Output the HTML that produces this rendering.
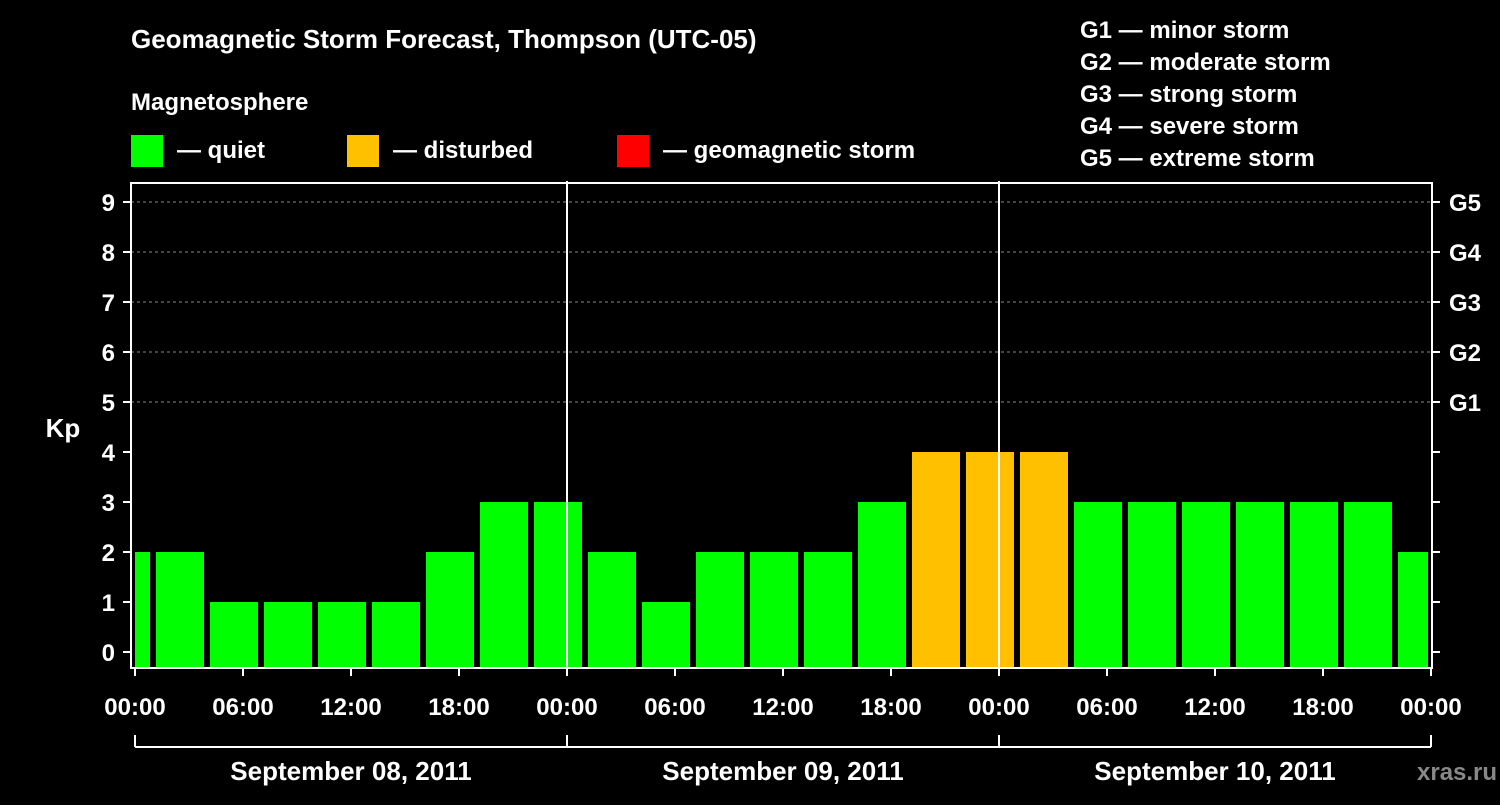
<!DOCTYPE html>
<html><head><meta charset="utf-8"><style>
body{margin:0;background:#000;width:1500px;height:800px;overflow:hidden;font-family:"Liberation Sans",sans-serif;}
svg text{font-family:"Liberation Sans",sans-serif;font-weight:bold;fill:#fff;}
</style></head><body>
<svg id="chart" width="1500" height="800" xmlns="http://www.w3.org/2000/svg">
<text x="131" y="48" font-size="26">Geomagnetic Storm Forecast, Thompson (UTC-05)</text>
<text x="131" y="110" font-size="24">Magnetosphere</text>
<rect x="131" y="135" width="32" height="32" fill="#00ff00"/>
<text x="177" y="158" font-size="24">— quiet</text>
<rect x="347" y="135" width="32" height="32" fill="#ffc000"/>
<text x="393" y="158" font-size="24">— disturbed</text>
<rect x="617" y="135" width="32" height="32" fill="#ff0000"/>
<text x="663" y="158" font-size="24">— geomagnetic storm</text>
<g font-size="24">
<text x="1080" y="38">G1 — minor storm</text>
<text x="1080" y="70">G2 — moderate storm</text>
<text x="1080" y="102">G3 — strong storm</text>
<text x="1080" y="134">G4 — severe storm</text>
<text x="1080" y="166">G5 — extreme storm</text>
</g>
<g id="plot"></g>
<text x="1417" y="780" font-size="24" fill="#888" style="fill:#888">xras.ru</text>
</svg>
<script>
const kpValues=[2,2,1,1,1,1,2,3,3,2,1,2,2,2,3,4,4,4,3,3,3,3,3,3,2];
const yTicks=[0,1,2,3,4,5,6,7,8,9];
const gLabels=["G1","G2","G3","G4","G5"];
const xLabels=["00:00","06:00","12:00","18:00","00:00","06:00","12:00","18:00","00:00","06:00","12:00","18:00","00:00"];
const dayLabels=["September 08, 2011","September 09, 2011","September 10, 2011"];
const firstSlotHour=-2, slotHours=3;
const X0=135,HPX=18,PL=131,PR=1432,PT=183,PB=668;
const xs=h=>X0+h*HPX;
const ys=v=>652-v*50;
const NS="http://www.w3.org/2000/svg";
const g=document.getElementById('plot');
function mk(t,a,p){const e=document.createElementNS(NS,t);for(const k in a)e.setAttribute(k,a[k]);(p||g).appendChild(e);return e;}
// grid
yTicks.filter(v=>v>=5).forEach(v=>{const l=mk('line',{x1:PL,x2:PR,y1:ys(v),y2:ys(v),stroke:'#888','stroke-dasharray':'3,3','stroke-width':1});

});
// bars
kpValues.forEach((v,i)=>{const h0=firstSlotHour+i*slotHours;let x1=xs(h0)+3,x2=xs(h0+slotHours)-3;
x1=Math.max(x1,X0);x2=Math.min(x2,PR-4);
const c=v>=5?'#ff0000':(v>=4?'#ffc000':'#00ff00');
const r=mk('rect',{x:x1,y:ys(v),width:x2-x1,height:PB-ys(v),fill:c});

});
// frame
const f=mk('rect',{x:PL,y:PT,width:PR-PL,height:PB-PT,fill:'none',stroke:'#fff','stroke-width':2});


// day lines
[1,2].forEach(d=>{const l=mk('line',{x1:xs(24*d),x2:xs(24*d),y1:181,y2:PB,stroke:'#fff','stroke-width':2});

});
// y ticks
yTicks.forEach(v=>{mk('line',{x1:PL-8,x2:PL,y1:ys(v),y2:ys(v),stroke:'#fff','stroke-width':2});
mk('line',{x1:PR,x2:PR+8,y1:ys(v),y2:ys(v),stroke:'#fff','stroke-width':2});
const t=mk('text',{x:115,y:ys(v)+9,'font-size':24,'text-anchor':'end'});t.textContent=v;

});
gLabels.forEach((s,i)=>{const t=mk('text',{x:1449,y:ys(5+i)+9,'font-size':24});t.textContent=s;

});
const kp=mk('text',{x:63,y:437,'font-size':26,'text-anchor':'middle'});kp.textContent='Kp';


// x ticks
xLabels.forEach((s,i)=>{const x=xs(i*6);mk('line',{x1:x,x2:x,y1:PB,y2:PB+8,stroke:'#fff','stroke-width':2});
const t=mk('text',{x:x,y:715,'font-size':24,'text-anchor':'middle'});t.textContent=s;

});
// bracket
mk('line',{x1:xs(0),x2:xs(72),y1:747,y2:747,stroke:'#fff','stroke-width':2});
[0,1,2,3].forEach(d=>mk('line',{x1:xs(24*d),x2:xs(24*d),y1:735,y2:747,stroke:'#fff','stroke-width':2}));
dayLabels.forEach((s,i)=>{const t=mk('text',{x:xs(24*i+12),y:780,'font-size':26,'text-anchor':'middle'});t.textContent=s;

});
</script>
</body></html>
